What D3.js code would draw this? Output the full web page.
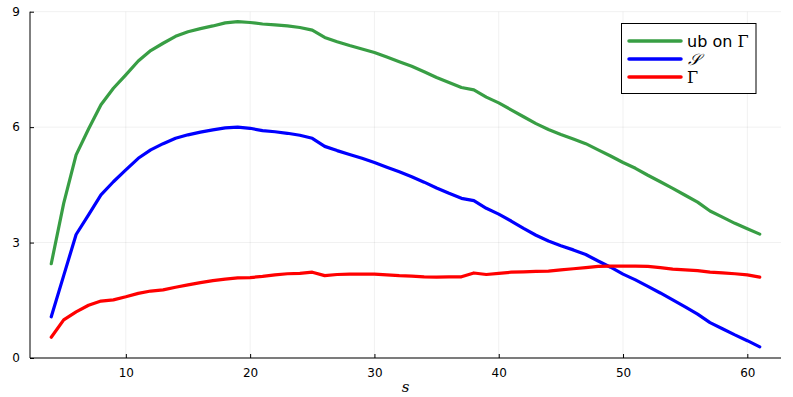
<!DOCTYPE html>
<html><head><meta charset="utf-8">
<script src="https://cdn.jsdelivr.net/npm/d3@7"></script>
<style>body{margin:0;background:#fff}svg{display:block}</style>
</head><body>
<svg id="c" width="793" height="397"></svg>
<script>
const s = d3.range(4, 62);
const ubGamma = [2.45,4.02,5.28,5.95,6.58,7.01,7.36,7.72,7.99,8.18,8.36,8.48,8.56,8.63,8.71,8.74,8.72,8.68,8.66,8.63,8.59,8.52,8.33,8.22,8.12,8.03,7.94,7.82,7.70,7.58,7.44,7.29,7.16,7.03,6.97,6.78,6.63,6.45,6.27,6.09,5.94,5.81,5.69,5.57,5.41,5.25,5.08,4.93,4.75,4.58,4.41,4.23,4.05,3.82,3.66,3.50,3.36,3.22];
const S = [1.07,2.14,3.21,3.72,4.24,4.58,4.89,5.19,5.41,5.57,5.71,5.80,5.87,5.93,5.98,6.00,5.97,5.91,5.88,5.84,5.79,5.71,5.50,5.39,5.29,5.19,5.08,4.96,4.84,4.71,4.57,4.42,4.28,4.15,4.09,3.89,3.74,3.56,3.37,3.19,3.04,2.92,2.81,2.69,2.52,2.36,2.18,2.03,1.86,1.69,1.51,1.33,1.14,0.92,0.76,0.60,0.45,0.29];
const Gamma = [0.54,0.99,1.20,1.37,1.48,1.51,1.59,1.68,1.74,1.77,1.84,1.90,1.96,2.01,2.05,2.08,2.09,2.12,2.16,2.19,2.20,2.23,2.14,2.17,2.18,2.18,2.18,2.16,2.14,2.13,2.11,2.10,2.11,2.11,2.21,2.17,2.20,2.23,2.24,2.25,2.26,2.29,2.32,2.35,2.38,2.39,2.39,2.39,2.38,2.35,2.31,2.29,2.27,2.23,2.21,2.19,2.16,2.10];
const xTicks = [10,20,30,40,50,60];
const yTicks = [0,3,6,9];
const series = [
  {name:"ub", values: ubGamma, color:"#389e44"},
  {name:"S", values: S, color:"#0000ff"},
  {name:"Gamma", values: Gamma, color:"#ff0000"}
];

const svg = d3.select("#c");
const L = 30, R = 781, T = 11.7, B = 358;
const x = d3.scaleLinear().domain([2.29, 62.71]).range([L, R]);
const y = d3.scaleLinear().domain([0, 9]).range([B, T]);

// grid
svg.append("g").selectAll("line").data(xTicks).join("line")
  .attr("x1", d=>x(d)).attr("x2", d=>x(d)).attr("y1", T).attr("y2", B)
  .attr("stroke", "#000").attr("stroke-opacity", 0.1).attr("stroke-width", 0.6);
svg.append("g").selectAll("line").data(yTicks).join("line")
  .attr("y1", d=>y(d)).attr("y2", d=>y(d)).attr("x1", L).attr("x2", R)
  .attr("stroke", "#000").attr("stroke-opacity", 0.1).attr("stroke-width", 0.6);

// axes
const xAxis = d3.axisBottom(x).tickValues(xTicks).tickSizeInner(-4).tickSizeOuter(0).tickPadding(10);
const gx = svg.append("g").attr("transform", `translate(0,${B})`).call(xAxis);
const yAxis = d3.axisLeft(y).tickValues(yTicks).tickSizeInner(-4).tickSizeOuter(0).tickPadding(10);
const gy = svg.append("g").attr("transform", `translate(${L},0)`).call(yAxis);
[gx, gy].forEach(g => {
  g.select(".domain").attr("stroke", "#000").attr("stroke-width", 1);
  g.selectAll(".tick line").attr("stroke", "#000");
  g.selectAll(".tick text").attr("font-family", "DejaVu Sans, sans-serif").attr("font-size", 12).attr("fill", "#000");
});
gy.select(".domain").attr("d", `M0,${B}V${T}`);
gx.select(".domain").attr("d", `M${L},0H${R}`);

// lines
const line = d3.line().x((d,i)=>x(s[i])).y(d=>y(d));
svg.append("g").selectAll("path").data(series).join("path")
  .attr("d", d=>line(d.values)).attr("fill","none")
  .attr("stroke", d=>d.color).attr("stroke-width", 3.2)
  .attr("stroke-linejoin","round").attr("stroke-linecap","round");

// x label
svg.append("text").attr("x", (L+R)/2).attr("y", 392).attr("text-anchor","middle")
  .attr("font-family","DejaVu Serif, serif").attr("font-style","italic").attr("font-size", 15).text("s");

// legend
const lg = svg.append("g");
lg.append("rect").attr("x", 621.5).attr("y", 23.5).attr("width", 134.5).attr("height", 70)
  .attr("fill","#fff").attr("stroke","#000").attr("stroke-width",1);
const ly = [41, 59, 77];
series.forEach((d,i)=>{
  lg.append("line").attr("x1",629).attr("x2",681).attr("y1",ly[i]).attr("y2",ly[i])
    .attr("stroke", d.color).attr("stroke-width",3.5).attr("stroke-linecap","round");
});
const t0 = lg.append("text").attr("x",687).attr("y",ly[0]+5.5).attr("font-size",16).attr("font-family","DejaVu Sans, sans-serif");
t0.append("tspan").text("ub on ");
t0.append("tspan").attr("font-family","DejaVu Serif, serif").text("Γ");
lg.append("text").attr("x",688).attr("y",ly[1]+5.5).attr("font-size",16)
  .attr("font-family","DejaVu Serif, serif").attr("font-style","italic").text("𝒮");
lg.append("text").attr("x",687).attr("y",ly[2]+5.5).attr("font-size",16)
  .attr("font-family","DejaVu Serif, serif").text("Γ");
</script>
</body></html>
